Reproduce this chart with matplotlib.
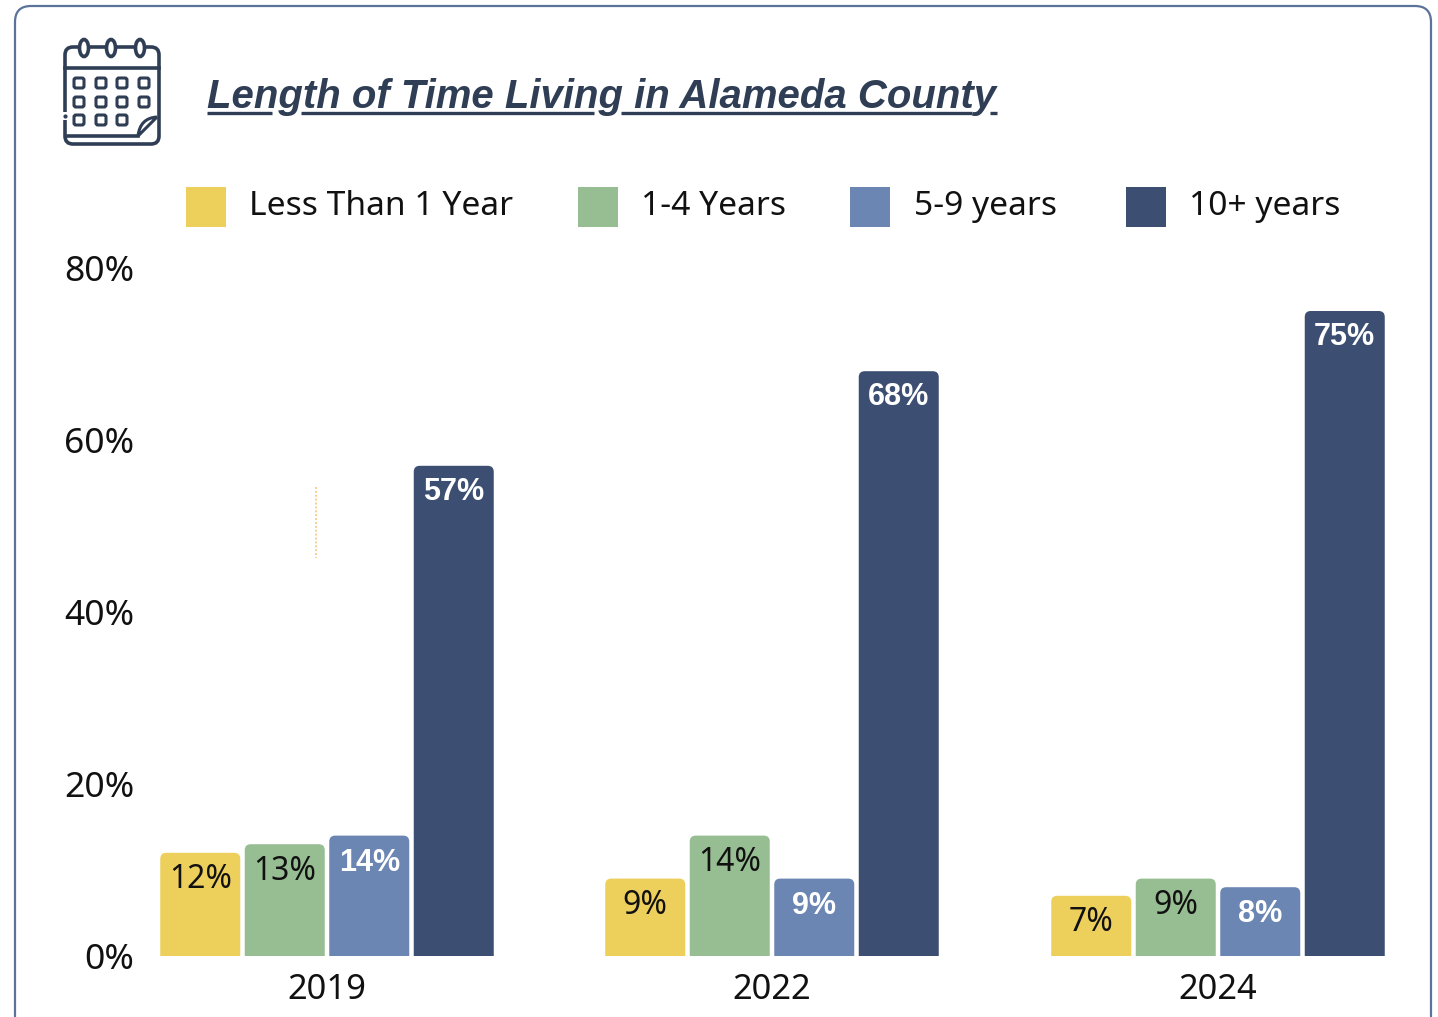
import matplotlib
matplotlib.use("Agg")
import matplotlib.pyplot as plt
from matplotlib.path import Path
from matplotlib.patches import PathPatch, FancyBboxPatch, Rectangle, Ellipse
import numpy as np

years = ["2019", "2022", "2024"]
series_names = ["Less Than 1 Year", "1-4 Years", "5-9 years", "10+ years"]
less_than_1 = [12, 9, 7]
one_to_four = [13, 14, 9]
five_to_nine = [14, 9, 8]
ten_plus = [57, 68, 75]
y_ticks = [0, 20, 40, 60, 80]

colors = ["#EDCF5C", "#97BD92", "#6C86B3", "#3C4F72"]
label_colors = ["#111111", "#111111", "white", "white"]
label_offset = [-27, -27, -27, -26]
dark = "#2F3E55"
W, H = 1438, 1017
plt.rcParams["font.family"] = ["Noto Sans", "DejaVu Sans"]

fig = plt.figure(figsize=(W / 100, H / 100), dpi=100)

# overlay in pixel coords for the card, icon, title and legend
bg = fig.add_axes([0, 0, 1, 1])
bg.set_xlim(0, W)
bg.set_ylim(H, 0)
bg.axis("off")

# card border runs off the bottom of the picture
bg.add_patch(FancyBboxPatch((15, 6), 1416, 1060, boxstyle="round,pad=0,rounding_size=16",
                            fc="white", ec="#5B7299", lw=1.6, clip_on=True))

# calendar icon
lw_icon = 2.6
bg.add_patch(FancyBboxPatch((65, 47), 94, 97, boxstyle="round,pad=0,rounding_size=8",
                            fc="none", ec=dark, lw=lw_icon))
bg.plot([65, 159], [68, 68], color=dark, lw=lw_icon)
bg.plot([68, 138], [136, 136], color=dark, lw=lw_icon)
for cx in [84, 111, 140]:
    bg.add_patch(Ellipse((cx, 48), 9, 17, fc="white", ec=dark, lw=lw_icon, zorder=3))
for row, cy in enumerate([83, 102, 120]):
    for col, cx in enumerate([79, 101, 122, 144]):
        if row == 2 and col == 3:
            continue
        bg.add_patch(FancyBboxPatch((cx - 5, cy - 5), 10, 10, boxstyle="round,pad=0,rounding_size=2",
                                    fc="none", ec=dark, lw=2.2))
# folded corner
fold = Path([(157, 117), (140, 118), (138, 136), (157, 117)], [Path.MOVETO, Path.CURVE3, Path.CURVE3, Path.LINETO])
bg.add_patch(PathPatch(fold, fc="white", ec=dark, lw=2.2, zorder=3))
bg.add_patch(Rectangle((62, 112), 6, 8, fc="white", ec="none", zorder=2))
bg.plot([65], [116], marker="o", ms=2, color=dark, zorder=3)

# title with underline that skips descenders
bg.text(207, 108, "Length of Time Living in Alameda County", family="Liberation Sans", fontsize=28.9,
        fontweight="bold", style="italic", color=dark, ha="left", va="baseline")
for x0, x1 in [(207, 272), (301, 594), (621, 972), (990, 997)]:
    bg.plot([x0, x1], [113, 113], color=dark, lw=2.4, solid_capstyle="butt")

# legend
legend_x = [186, 578, 850, 1126]
text_x = [249, 641, 914, 1189]
for name, c, lx, tx in zip(series_names, colors, legend_x, text_x):
    bg.add_patch(Rectangle((lx, 187), 40, 40, fc=c, ec="none"))
    bg.text(tx, 215, name, fontsize=24.2, color="#111111", ha="left", va="baseline")

# faint dotted line left in the original
bg.plot([316, 316], [487, 558], color="#F8CF8E", lw=1.4, ls=(0, (1, 1)))

# chart axes
left, right, bottom, top = 140, 1400, 956, 268
ax = fig.add_axes([left / W, 1 - bottom / H, (right - left) / W, (bottom - top) / H])
ax.patch.set_alpha(0)
ax.set_xlim(left, right)
ax.set_ylim(0, 80)
for s in ax.spines.values():
    s.set_visible(False)

group_x = np.array([327, 772, 1218])
bar_w = 80
step = 84.5


def rounded_top(rect, rx=6, ry=0.7):
    x, w, h = rect.get_x(), rect.get_width(), rect.get_height()
    verts = [(x, 0), (x, h - ry), (x, h), (x + rx, h), (x + w - rx, h), (x + w, h), (x + w, h - ry),
             (x + w, 0), (x, 0)]
    codes = [Path.MOVETO, Path.LINETO, Path.CURVE3, Path.CURVE3, Path.LINETO, Path.CURVE3, Path.CURVE3,
             Path.LINETO, Path.CLOSEPOLY]
    return Path(verts, codes)


all_values = [less_than_1, one_to_four, five_to_nine, ten_plus]
for i, vals in enumerate(all_values):
    bars = ax.bar(group_x + (i - 1.5) * step, vals, bar_w, color=colors[i])
    for rect, v in zip(bars, vals):
        rect.set_visible(False)
        ax.add_patch(PathPatch(rounded_top(rect), fc=colors[i], ec="none"))
        if label_colors[i] == "white":
            ax.annotate(f"{v}%", (rect.get_x() + bar_w / 2, v), xytext=(0, label_offset[i]), textcoords="offset pixels",
                        ha="center", va="center", fontsize=22, family="Liberation Sans",
                        fontweight="bold", color="white")
        else:
            ax.annotate(f"{v}%", (rect.get_x() + bar_w / 2, v), xytext=(0, label_offset[i]), textcoords="offset pixels",
                        ha="center", va="center", fontsize=23, color=label_colors[i])

ax.set_xticks(group_x, years)
ax.set_yticks(y_ticks, [f"{t}%" for t in y_ticks])
ax.tick_params(length=0, labelcolor="#111111")
ax.tick_params(axis="x", pad=12, labelsize=24.8)
ax.tick_params(axis="y", pad=4, labelsize=25.5)

fig.savefig("out.png", dpi=100)
